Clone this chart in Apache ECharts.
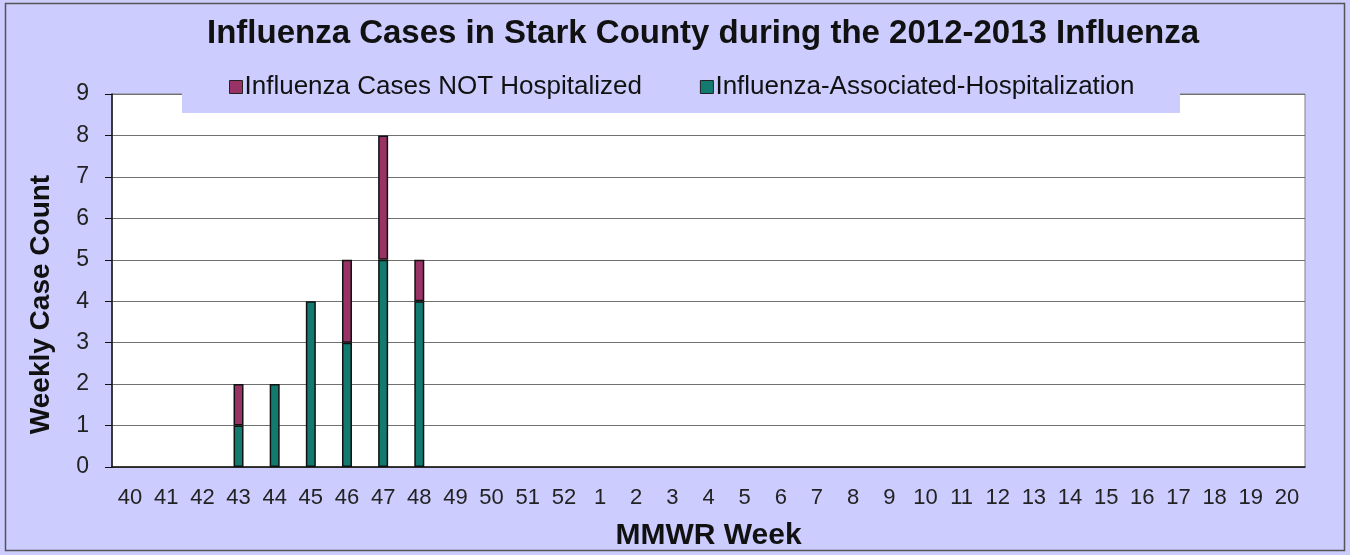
<!DOCTYPE html>
<html>
<head>
<meta charset="utf-8">
<script src="https://cdn.jsdelivr.net/npm/echarts@6/dist/echarts.min.js"></script>
<style>
html,body{margin:0;padding:0;background:#CCCCFF;}
#chart{width:1350px;height:555px;}
</style>
</head>
<body>
<div id="chart"></div>
<script>
const weeks = ['40','41','42','43','44','45','46','47','48','49','50','51','52','1','2','3','4','5','6','7','8','9','10','11','12','13','14','15','16','17','18','19','20'];
const hospitalized = [0,0,0,1,2,4,3,5,4,0,0,0,0,0,0,0,0,0,0,0,0,0,0,0,0,0,0,0,0,0,0,0,0];
const notHospitalized = [0,0,0,1,0,0,2,3,1,0,0,0,0,0,0,0,0,0,0,0,0,0,0,0,0,0,0,0,0,0,0,0,0];
const yTicks = [0,1,2,3,4,5,6,7,8,9];

// zero-height segments are not drawn (no stub outline)
const hide0 = arr => arr.map(v => (v === 0 ? null : v));

const FONT = '"Liberation Sans", Arial, sans-serif';
const chart = echarts.init(document.getElementById('chart'));
chart.setOption({
  backgroundColor: '#CCCCFF',
  animation: false,
  textStyle: { fontFamily: FONT },
  title: {
    text: 'Influenza Cases in Stark County during the 2012-2013 Influenza',
    left: 202,
    top: 12,
    textStyle: { fontFamily: FONT, fontSize: 33, fontWeight: 'bold', color: '#111' }
  },
  graphic: [
    { type: 'rect', z: 10, shape: { x: 182, y: 62, width: 998, height: 51 }, style: { fill: '#CCCCFF' } },
    { type: 'rect', z: 30, silent: true, shape: { x: 5.5, y: 3.5, width: 1339, height: 547 }, style: { fill: 'none', stroke: '#555', lineWidth: 1.5 } }
  ],
  legend: {
    z: 20,
    left: 224,
    top: 69,
    itemWidth: 13,
    itemHeight: 13,
    itemGap: 58,
    icon: 'rect',
    data: ['Influenza Cases NOT Hospitalized', 'Influenza-Associated-Hospitalization'],
    textStyle: { fontFamily: FONT, fontSize: 26, color: '#111', padding: [0, 0, 0, -3] },
    itemStyle: { borderColor: '#222', borderWidth: 1 }
  },
  grid: {
    left: 112, right: 45, top: 94, bottom: 88,
    outerBoundsMode: 'none',
    show: true, backgroundColor: '#FFFFFF', borderColor: '#808080', borderWidth: 1,
    containLabel: false
  },
  xAxis: {
    type: 'category',
    data: weeks,
    name: 'MMWR Week',
    nameLocation: 'middle',
    nameGap: 54,
    nameTextStyle: { fontFamily: FONT, fontSize: 30, fontWeight: 'bold', color: '#111' },
    axisLine: { lineStyle: { color: '#111', width: 1.5 } },
    axisTick: { inside: true, length: 6, lineStyle: { color: '#111' } },
    axisLabel: { fontFamily: FONT, fontSize: 22, color: '#222', margin: 20 }
  },
  yAxis: {
    type: 'value',
    min: 0, max: 9, interval: 1,
    name: 'Weekly Case Count',
    nameLocation: 'middle',
    nameGap: 57,
    nameTextStyle: { fontFamily: FONT, fontSize: 28, fontWeight: 'bold', color: '#111', padding: [0, 48, 0, 0] },
    axisLine: { show: true, lineStyle: { color: '#111', width: 1.5 } },
    axisTick: { show: true, length: 7, lineStyle: { color: '#111' } },
    axisLabel: { fontFamily: FONT, fontSize: 23, color: '#222', margin: 23,
      formatter: v => yTicks.includes(v) ? String(v) : '' },
    splitLine: { lineStyle: { color: '#707070', width: 1.2 } }
  },
  series: [
    {
      name: 'Influenza-Associated-Hospitalization',
      type: 'bar', stack: 'total', data: hide0(hospitalized), barWidth: 10,
      itemStyle: { color: '#137A70', borderColor: '#111', borderWidth: 1.5 }
    },
    {
      name: 'Influenza Cases NOT Hospitalized',
      type: 'bar', stack: 'total', data: hide0(notHospitalized), barWidth: 10,
      itemStyle: { color: '#993366', borderColor: '#111', borderWidth: 1.5 }
    }
  ]
});
</script>
</body>
</html>
